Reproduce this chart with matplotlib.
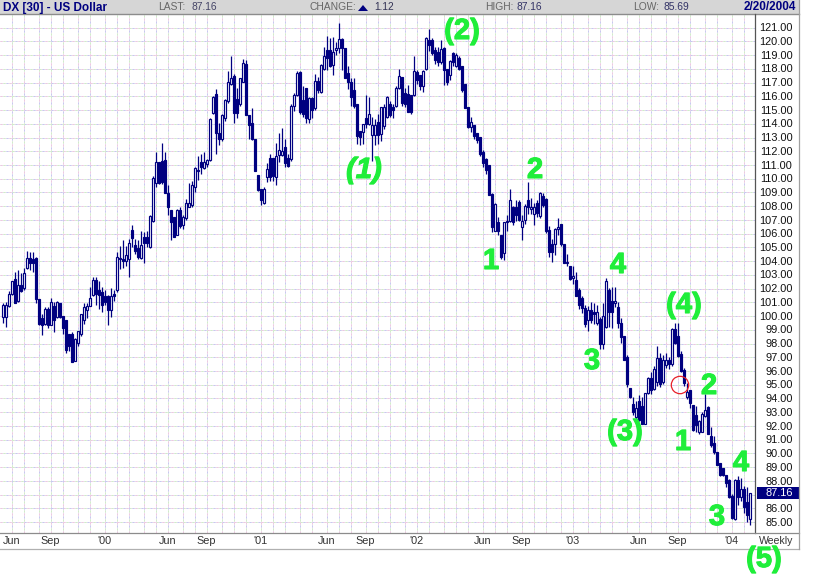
import matplotlib
matplotlib.use("Agg")
import matplotlib.pyplot as plt
import matplotlib.patheffects as pe
from matplotlib.patches import Rectangle, Circle, Polygon

plt.rcParams['font.family'] = ['Liberation Sans', 'DejaVu Sans']

opens = [
 100.0,100.0,100.8,101.7,102.8,101.2,102.3,102.1,103.6,104.3,
 104.2,104.3,101.3,99.9,99.5,100.6,99.4,100.8,100.0,101.0,
 100.1,99.8,98.8,98.8,96.8,98.1,98.8,99.8,100.5,100.8,
 101.6,102.7,102.0,101.8,101.5,101.5,100.5,101.7,102.0,104.3,
 104.2,104.1,104.2,106.35,105.25,105.0,104.3,105.8,105.8,105.1,
 107.0,109.75,111.3,111.4,111.45,109.0,107.8,107.3,106.0,107.8,
 106.7,107.2,108.05,108.15,109.5,110.6,111.3,110.85,111.15,111.45,
 114.85,116.25,113.4,113.0,114.5,115.7,117.0,117.55,115.9,115.55,
 117.15,118.45,114.7,114.1,112.95,110.35,109.3,108.3,110.2,111.55,
 111.55,110.2,111.8,111.8,112.35,111.55,111.5,115.4,116.2,117.85,
 115.8,116.65,114.4,115.95,115.2,117.2,116.4,118.1,119.45,119.45,
 118.35,119.45,119.6,120.25,119.6,117.75,117.15,116.5,115.55,113.55,
 113.5,114.5,114.05,113.25,113.25,114.2,113.3,113.9,114.6,115.55,
 115.3,115.4,116.7,117.45,116.3,116.25,116.2,116.2,117.85,117.6,
 116.85,118.1,120.2,120.2,119.45,119.3,118.6,119.6,118.1,117.6,
 119.2,118.3,118.85,118.25,117.0,115.3,113.85,114.0,113.4,113.1,
 112.0,111.5,111.1,108.95,106.3,106.95,105.95,104.65,106.95,107.0,
 108.05,108.05,108.35,106.55,107.05,108.5,107.9,107.5,108.3,107.35,
 108.85,108.6,106.35,105.3,105.35,106.4,106.75,105.3,103.95,103.7,
 102.85,102.7,102.0,101.4,100.65,99.75,100.5,100.4,99.6,99.85,
 98.0,99.3,102.0,101.2,101.0,100.75,99.55,98.6,97.1,94.85,
 93.7,92.7,93.9,93.55,92.2,94.5,95.55,94.75,95.3,97.0,
 95.3,96.5,96.85,96.6,99.15,98.6,97.3,96.15,94.2,94.7,
 93.6,92.9,91.6,91.65,92.8,93.45,91.3,90.8,90.2,89.35,
 88.98,88.5,88.15,86.95,85.3,88.15,86.9,87.5,86.5,85.3,
]
closes = [
 100.9,100.9,101.7,102.6,101.0,102.3,101.9,103.2,104.3,103.9,
 103.9,101.3,99.5,99.4,100.6,99.4,101.1,99.8,101.1,100.0,
 99.2,97.6,97.9,96.7,98.4,99.0,100.2,100.7,100.8,101.4,
 102.7,101.7,101.6,100.9,101.1,100.5,101.5,101.5,104.4,104.2,
 104.1,104.5,105.4,105.75,104.8,104.4,105.25,105.4,105.4,107.35,
 110.1,111.3,109.75,109.85,109.0,108.0,106.9,105.85,107.8,106.65,
 107.3,108.3,108.3,109.6,110.85,110.7,110.9,111.3,111.45,114.45,
 116.05,113.4,113.0,114.7,115.8,117.15,117.4,114.85,114.85,117.4,
 118.5,114.7,114.0,112.95,110.6,109.25,108.5,109.35,110.75,110.2,
 110.3,111.7,112.15,112.1,111.2,111.0,115.4,116.2,117.75,114.95,
 114.8,114.5,115.95,115.1,117.2,116.5,118.35,119.0,118.9,118.3,
 119.3,119.6,120.25,119.6,117.4,117.15,116.05,115.35,113.2,113.1,
 114.05,114.05,114.8,114.0,114.0,113.25,115.3,115.3,116.0,114.7,
 115.1,116.7,117.55,115.6,115.55,114.9,114.9,117.9,117.25,116.8,
 117.9,120.3,119.8,119.2,118.7,118.6,119.55,118.0,117.15,118.65,
 118.6,119.1,118.1,116.5,115.25,113.85,114.2,113.2,112.9,111.9,
 111.2,110.7,108.9,106.55,108.2,106.25,104.4,106.95,107.0,108.55,
 106.95,107.45,107.05,107.0,108.1,108.05,108.05,108.05,107.55,109.0,
 108.15,106.25,104.7,104.75,106.4,106.55,105.3,103.95,104.0,102.8,
 103.0,101.55,100.9,100.65,99.5,100.5,99.8,100.2,100.4,98.0,
 100.1,102.6,100.35,100.4,101.2,99.55,98.55,96.9,95.1,94.15,
 93.05,93.35,92.5,92.2,94.5,95.55,94.7,96.2,97.0,95.1,
 96.9,96.85,96.55,99.15,98.1,97.15,96.1,95.17,94.55,93.75,
 91.8,92.1,92.4,92.95,93.2,91.5,90.7,90.2,89.2,88.5,
 88.5,87.9,86.9,85.35,88.1,86.9,87.45,86.2,85.6,87.16,
]
highs = [
 101.0,101.1,101.9,102.6,103.3,103.4,103.2,103.6,104.8,104.7,
 104.7,104.4,101.3,100.2,100.7,100.7,101.4,101.1,101.2,101.0,
 100.1,99.8,98.8,98.9,98.5,99.0,100.2,101.0,101.0,102.2,
 102.9,102.9,102.6,102.2,102.0,101.6,102.1,102.0,104.7,105.2,
 105.6,105.2,105.7,106.7,105.7,105.6,106.3,106.2,106.3,107.4,
 110.3,112.05,111.3,112.7,112.0,109.6,107.8,107.3,107.9,108.0,
 107.4,108.6,109.75,109.9,110.9,111.7,111.9,112.05,111.5,114.5,
 116.1,116.6,114.1,114.8,115.85,117.9,119.0,117.7,116.65,117.4,
 118.8,118.7,114.7,115.2,112.95,110.35,109.3,109.5,111.2,111.9,
 111.55,112.65,113.4,113.75,113.0,111.9,115.5,116.3,117.9,117.95,
 116.8,116.7,116.0,116.0,117.7,117.5,118.4,119.65,120.5,120.3,
 120.4,120.0,121.4,120.3,119.6,118.3,117.4,117.4,115.55,113.55,
 114.05,116.2,116.0,114.6,114.4,114.8,115.3,115.5,116.1,115.7,
 115.5,116.8,118.1,117.5,116.7,116.9,116.2,119.0,118.0,117.6,
 118.0,120.4,121.0,120.3,119.7,119.7,120.2,119.65,118.1,118.7,
 119.3,119.2,119.0,118.3,117.0,115.3,114.6,114.0,113.4,113.1,
 112.2,111.6,111.1,109.0,108.3,107.3,106.0,106.95,107.4,109.3,
 108.1,108.5,108.5,107.4,108.2,109.85,108.7,108.3,108.5,109.1,
 109.0,108.7,106.6,105.7,106.5,107.2,106.8,105.3,104.6,103.7,
 103.7,103.3,102.1,101.5,100.9,100.8,101.1,101.0,100.9,100.0,
 101.0,102.85,102.1,102.2,102.2,101.1,99.9,98.6,97.2,94.85,
 94.2,93.9,94.3,94.2,94.5,95.6,96.0,96.4,97.9,97.4,
 97.2,97.4,97.1,99.2,99.6,99.6,97.5,96.3,95.2,94.7,
 93.6,93.5,92.5,93.1,94.4,93.5,92.0,91.3,90.2,89.4,
 89.0,88.5,88.2,87.1,88.2,88.4,88.3,87.7,87.6,87.2,
]
lows = [
 99.6,99.3,100.7,101.6,101.0,101.1,101.8,102.0,103.5,103.4,
 103.3,101.0,99.4,98.7,99.4,99.2,99.4,98.9,99.9,99.9,
 98.8,97.4,97.5,96.7,96.8,97.9,98.6,99.5,99.9,100.8,
 101.5,100.9,100.6,100.4,100.9,99.4,100.0,101.2,101.8,103.5,
 103.6,103.7,102.9,105.1,104.6,104.2,104.2,103.9,105.1,105.0,
 106.9,109.5,109.7,109.7,109.0,107.4,105.6,105.8,106.0,106.5,
 106.4,107.1,108.0,108.0,109.1,110.0,110.4,110.8,110.95,111.4,
 114.8,111.9,112.5,112.8,114.3,115.6,116.9,114.1,114.5,115.4,
 117.1,114.7,113.0,112.9,110.6,109.2,108.15,108.2,109.85,109.9,
 109.9,109.6,111.3,111.7,110.9,110.9,111.4,115.0,116.1,114.8,
 114.6,114.1,114.1,114.5,115.1,116.3,116.3,118.0,118.0,118.2,
 117.6,119.1,119.2,118.0,117.4,116.6,115.4,115.2,112.6,112.5,
 112.6,113.8,114.0,111.4,112.5,112.6,112.8,113.7,114.5,114.6,
 114.5,115.3,116.6,115.4,115.3,114.9,114.8,116.1,117.0,116.5,
 116.4,118.0,119.4,119.1,118.4,118.3,118.4,116.9,116.9,117.3,
 118.3,118.2,118.0,116.4,115.2,113.8,113.5,113.0,112.7,111.7,
 110.95,110.4,108.9,106.2,106.3,106.0,104.2,104.15,106.3,106.9,
 106.7,107.0,107.0,105.6,106.8,107.5,107.5,106.7,107.3,107.2,
 108.0,106.1,104.4,104.0,104.5,106.0,105.2,103.9,103.7,102.7,
 102.4,101.5,100.6,100.3,99.3,98.95,99.6,99.5,99.4,97.7,
 97.7,99.2,99.3,99.2,100.7,99.2,98.1,96.9,94.9,94.1,
 92.9,92.6,92.4,92.2,92.2,94.4,94.4,94.7,95.0,94.9,
 95.1,96.3,96.2,96.4,98.0,97.1,96.0,94.95,94.0,93.4,
 91.7,91.6,91.5,91.6,92.7,91.5,90.5,90.0,89.2,88.4,
 88.4,87.6,86.8,85.3,85.2,86.3,86.6,85.7,85.1,84.85,
]
month_lines = [3,7,12,16,20,25,29,34,38,42,47,51,55,60,64,68,73,77,81,86,90,94,99,
               103,108,112,116,121,125,129,134,138,142,147,151,155,160,164,168,173,
               177,181,186,190,195,199,203,208,212,216,221,225,229,234,238,243,247]
tick_weeks = [3,16,34,55,68,86,108,121,138,160,173,190,212,225,243]
tick_labels = ['Jun','Sep',"'00",'Jun','Sep',"'01",'Jun','Sep',"'02",'Jun','Sep',"'03",'Jun','Sep',"'04"]
price_levels = list(range(85, 122))
last_price = 87.16
wave_labels = ['(2)','(1)','2','1','4','3','(3)','(4)','2','1','4','3','(5)']
wave_pos = [(462,31),(364,170),(535,170),(491,261),(618,265),(592,361),(625,432),
            (684,305),(709,386),(683,442),(741,463),(717,517),(764,559)]

W, H = 822, 576
NAVY = '#000080'
fig = plt.figure(figsize=(W/100, H/100), dpi=100, facecolor='white')

ax = fig.add_axes([0, 1-533/H, 755/W, (533-14)/H])
ax.set_xlim((0-2.67)/3, (755-2.67)/3)
ax.set_ylim(121-(533-28.7)/13.73, 121-(14-28.7)/13.73)
for s in ax.spines.values():
    s.set_visible(False)
ax.set_xticks([]); ax.set_yticks([])

grid_base = '#ebe8ee'
dither = ['#eec8e2', '#c8c8f0', '#d0eec8']
for lvl in price_levels:
    ax.axhline(lvl+0.07, color=grid_base, lw=0.72, zorder=1)
    for k, col in enumerate(dither):
        ax.axhline(lvl+0.07, color=col, lw=0.72, ls=(3*k, (2, 7)), zorder=1.1)
for m in month_lines:
    ax.axvline(m, color=grid_base, lw=0.72, zorder=1)
    for k, col in enumerate(dither):
        ax.axvline(m, color=col, lw=0.72, ls=(3*k, (2, 7)), zorder=1.1)

idx = list(range(len(closes)))
ax.vlines(idx, lows, highs, color=NAVY, lw=0.9, zorder=3)
for i, o, c in zip(idx, opens, closes):
    up = c >= o
    ax.bar(i, abs(c-o), bottom=min(o, c), width=0.62,
           facecolor='white' if up else NAVY, edgecolor=NAVY, linewidth=0.85, zorder=4)

ov = fig.add_axes([0, 0, 1, 1], facecolor='none')
ov.set_xlim(0, W); ov.set_ylim(H, 0); ov.axis('off')
ov.add_patch(Rectangle((0, 0), 799, 14, fc='#d6d6d6', ec='none'))
ov.plot([0, 799], [14, 14], color='#8c8c8c', lw=1)
ov.plot([755, 755], [14, 533], color='#555555', lw=0.9)
ov.plot([0, 799], [533, 533], color='#8c8c8c', lw=0.9)
ov.plot([0, 799], [549, 549], color='#b0b0b0', lw=0.9)
ov.plot([799, 799], [0, 549], color='#a0a0a0', lw=0.9)

ov.text(3, 7.5, 'DX [30] - US Dollar', color=NAVY, fontsize=8.5, fontweight='bold', va='center')
ov.text(158, 7.5, 'LAST:', color='#666666', fontsize=7.4, va='center')
ov.text(191, 7.5, '87.16', color='#444466', fontsize=7.4, va='center')
ov.text(309, 7.5, 'CHANGE:', color='#666666', fontsize=7.4, va='center')
ov.add_patch(Polygon([[358, 11], [368, 11], [363, 5]], fc=NAVY, ec='none'))
ov.text(374, 7.5, '1.12', color='#333355', fontsize=7.4, va='center')
ov.text(485, 7.5, 'HIGH:', color='#666666', fontsize=7.4, va='center')
ov.text(516, 7.5, '87.16', color='#333366', fontsize=7.4, va='center')
ov.text(633, 7.5, 'LOW:', color='#666666', fontsize=7.4, va='center')
ov.text(663, 7.5, '85.69', color='#333366', fontsize=7.4, va='center')
ov.text(796, 7.5, '2/20/2004', color=NAVY, fontsize=8.5, fontweight='bold', va='center', ha='right')

for lvl in price_levels:
    if lvl == 87:
        continue
    y = 522.8 - (lvl-85)*13.74
    ov.text(792.5, y, f'{lvl:.2f}', color='#111111', fontsize=7.9, va='center', ha='right')
ov.add_patch(Rectangle((757, 487), 41.5, 12, fc=NAVY, ec='none'))
ov.text(792.5, 493, f'{last_price:.2f}', color='white', fontsize=7.9, va='center', ha='right')

for m, lab in zip(tick_weeks, tick_labels):
    ov.text(2.67+3*m, 541, lab, color='#333333', fontsize=7.8, va='center', ha='center')
ov.text(776.5, 541, 'Weekly', color='#333333', fontsize=7.6, va='center', ha='center')

ov.add_patch(Circle((680, 385), 8.7, fc='none', ec='#e8202a', lw=0.9, zorder=6))

for lab, (px, py) in zip(wave_labels, wave_pos):
    ov.text(px, py, lab, color='#1fee3a', fontsize=21, fontweight='bold', ha='center', va='center',
            zorder=7, style='italic' if lab == '(1)' else 'normal',
            path_effects=[pe.withStroke(linewidth=0.8, foreground='#1fee3a')])

fig.savefig('out.png', dpi=100)
